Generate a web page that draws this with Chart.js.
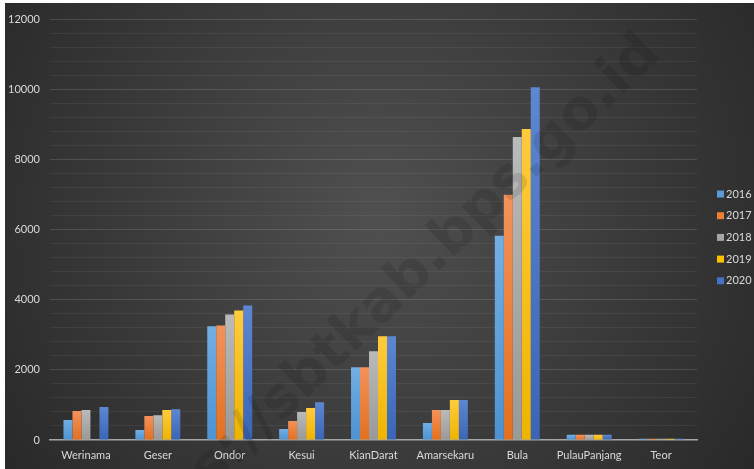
<!DOCTYPE html>
<html>
<head>
<meta charset="utf-8">
<script src="https://cdn.jsdelivr.net/npm/chart.js@4.4.1/dist/chart.umd.min.js"></script>
<style>
  html, body { margin: 0; padding: 0; background: #ffffff; }
  #wrap { position: absolute; left: 5px; top: 3px; width: 749px; height: 466px; }
</style>
</head>
<body>
<div id="wrap"><canvas id="grafik" width="749" height="466"></canvas></div>
<script>
const kecamatan = ['Werinama', 'Geser', 'Ondor', 'Kesui', 'KianDarat', 'Amarsekaru', 'Bula', 'PulauPanjang', 'Teor'];
const tahun = ['2016', '2017', '2018', '2019', '2020'];
const nilai2016 = [570, 285, 3245, 315, 2075, 485, 5830, 150, 35];
const nilai2017 = [825, 685, 3270, 540, 2075, 855, 7000, 150, 35];
const nilai2018 = [855, 710, 3585, 800, 2530, 855, 8650, 150, 35];
const nilai2019 = [0, 855, 3700, 910, 2960, 1140, 8875, 150, 35];
const nilai2020 = [940, 880, 3840, 1080, 2960, 1140, 10070, 150, 35];
const yTicks = [0, 2000, 4000, 6000, 8000, 10000, 12000];

const warna = ['#5b9bd5', '#ed7d31', '#a5a5a5', '#ffc000', '#4472c4'];
const warnaAtas = ['#72afe3', '#f3925b', '#bababa', '#ffcb3d', '#5d87d2'];
const warnaBawah = ['#4d92d1', '#e3701f', '#999999', '#eeb400', '#3a65b6'];
const semuaNilai = [nilai2016, nilai2017, nilai2018, nilai2019, nilai2020];

const latar = {
  id: 'latar',
  beforeDraw(chart) {
    const c = chart.ctx;
    const w = chart.width, h = chart.height;
    const g = c.createRadialGradient(w * 0.5, h * 0.45, 10, w * 0.5, h * 0.45, w * 0.62);
    g.addColorStop(0, '#4f4f4f');
    g.addColorStop(1, '#282828');
    c.save();
    c.fillStyle = g;
    c.fillRect(0, 0, w, h);
    c.restore();
  }
};

const cap = {
  id: 'cap',
  afterDatasetsDraw(chart) {
    const c = chart.ctx;
    c.save();
    c.translate(628, 22);
    c.rotate(-Math.PI / 4.1);
    c.font = 'bold 56px "DejaVu Sans"';
    c.fillStyle = 'rgba(0,0,0,0.11)';
    c.textAlign = 'right';
    c.textBaseline = 'top';
    c.fillText('https://sbtkab.bps.go.id', 0, 0);
    c.restore();
  }
};

// legenda di kanan, digambar sendiri supaya posisinya pas
const legenda = {
  id: 'legenda',
  afterDraw(chart) {
    const c = chart.ctx;
    const x = 712;
    const y0 = 191;
    c.save();
    c.font = '11px Lato';
    c.textBaseline = 'middle';
    chart.data.datasets.forEach((ds, i) => {
      const y = y0 + i * 21.7;
      c.fillStyle = warna[i];
      c.fillRect(x, y - 3.5, 7, 7);
      c.fillStyle = '#d9d9d9';
      c.fillText(ds.label, x + 9, y);
    });
    c.restore();
  }
};

function isiBatang(i) {
  return (ctx) => {
    const chart = ctx.chart;
    const sy = chart.scales.y;
    if (!chart.chartArea || !sy || ctx.raw == null) return warna[i];
    const atas = sy.getPixelForValue(ctx.raw);
    const bawah = sy.getPixelForValue(0);
    if (!isFinite(atas) || bawah - atas < 1) return warna[i];
    const g = chart.ctx.createLinearGradient(0, atas, 0, bawah);
    g.addColorStop(0, warnaAtas[i]);
    g.addColorStop(1, warnaBawah[i]);
    return g;
  };
}

let dataset = [];
for (let i = 0; i < tahun.length; i++) {
  dataset.push({
    label: tahun[i],
    data: semuaNilai[i],
    backgroundColor: isiBatang(i),
    borderWidth: 0,
    categoryPercentage: 0.625,
    barPercentage: 1.0
  });
}

new Chart(document.getElementById('grafik'), {
  type: 'bar',
  data: { labels: kecamatan, datasets: dataset },
  options: {
    responsive: false,
    animation: false,
    layout: { padding: { left: 0, top: 8, right: 57, bottom: 0 } },
    plugins: {
      legend: { display: false },
      tooltip: { enabled: false }
    },
    scales: {
      x: {
        grid: { display: false, drawTicks: false },
        border: { color: '#a6a6a6', width: 1.5 },
        afterFit: (s) => { s.height = 29; },
        ticks: {
          color: '#d9d9d9',
          padding: 9,
          maxRotation: 0,
          autoSkip: false,
          font: { family: 'Lato', size: 11 }
        }
      },
      y: {
        min: 0,
        max: 12000,
        border: { display: false },
        afterFit: (s) => { s.width = 45; },
        grid: {
          drawTicks: false,
          color: (ctx) => {
            if (ctx.tick.value === 0) return 'rgba(0,0,0,0)';
            return yTicks.includes(ctx.tick.value) ? 'rgba(255,255,255,0.13)' : 'rgba(255,255,255,0.06)';
          }
        },
        ticks: {
          stepSize: 400,
          autoSkip: false,
          color: '#d9d9d9',
          padding: 10,
          font: { family: 'Lato', size: 11 },
          callback: (v) => yTicks.includes(v) ? String(v) : ''
        }
      }
    }
  },
  plugins: [latar, cap, legenda]
});
</script>
</body>
</html>
